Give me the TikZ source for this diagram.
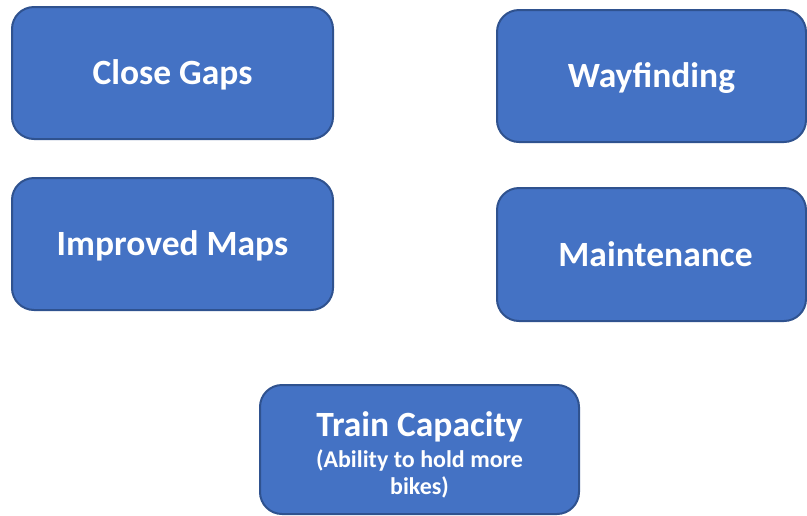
\documentclass[tikz,border=0pt]{standalone}
\usepackage{fontspec}
\setmainfont{Carlito}
\definecolor{boxfill}{HTML}{4472C4}
\definecolor{boxline}{HTML}{2F528F}
\tikzset{
  x=1pt, y=1pt,
  topic/.style={draw=boxline, fill=boxfill, line width=2pt, rounded corners=22pt,
    text=white, font=\fontsize{35.5}{40}\selectfont\bfseries, align=center,
    inner sep=0pt, anchor=center, text height=23pt, text depth=0pt},
  subtext/.style={text=white, align=center, inner sep=0pt, anchor=base},
}
\begin{document}
\begin{tikzpicture}
\useasboundingbox (0,0) rectangle (807,-515);
\node[topic, minimum width=321pt, minimum height=132pt] (gaps) at (172.5,-73) {Close Gaps};
\node[topic, minimum width=309pt, minimum height=132pt] (way) at (651.5,-76) {Wayfinding};
\node[topic, minimum width=321pt, minimum height=132pt] (maps) at (172.5,-244) {Improved Maps};
\node[topic, minimum width=309pt, minimum height=133pt] (maint) at (651.5,-254.5) {\hspace*{8pt}Maintenance};
\node[topic, minimum width=319pt, minimum height=129pt] (train) at (419.5,-449.5) {};
\node[subtext, font=\fontsize{35.5}{40}\selectfont\bfseries] (traint) at (419.5,-436)
  {Train Capacity};
\node[subtext, font=\fontsize{24}{27}\selectfont\bfseries] (trainsub) at (419.5,-467)
  {(Ability to hold more};
\node[subtext, font=\fontsize{24}{27}\selectfont\bfseries] (trainsub2) at (419.5,-494)
  {bikes)};
\end{tikzpicture}
\end{document}
